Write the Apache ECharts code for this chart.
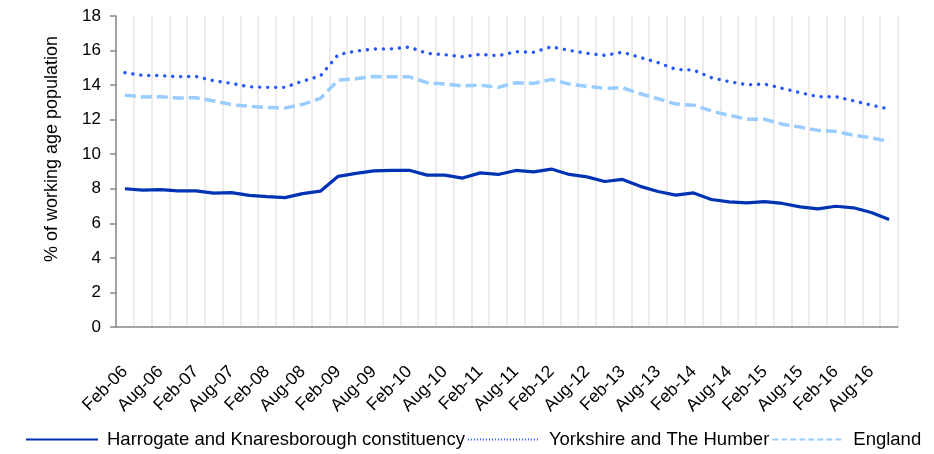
<!DOCTYPE html>
<html>
<head>
<meta charset="utf-8">
<script src="https://cdn.jsdelivr.net/npm/echarts@6/dist/echarts.min.js"></script>
<style>
  html, body { margin: 0; padding: 0; background: #fff; }
  #main { width: 934px; height: 454px; }
</style>
</head>
<body>
<div id="main"></div>
<script>
// quarterly periods, Feb-06 .. Nov-16
var quarters = [
  'Feb-06', 'May-06', 'Aug-06', 'Nov-06', 'Feb-07', 'May-07', 'Aug-07', 'Nov-07',
  'Feb-08', 'May-08', 'Aug-08', 'Nov-08', 'Feb-09', 'May-09', 'Aug-09', 'Nov-09',
  'Feb-10', 'May-10', 'Aug-10', 'Nov-10', 'Feb-11', 'May-11', 'Aug-11', 'Nov-11',
  'Feb-12', 'May-12', 'Aug-12', 'Nov-12', 'Feb-13', 'May-13', 'Aug-13', 'Nov-13',
  'Feb-14', 'May-14', 'Aug-14', 'Nov-14', 'Feb-15', 'May-15', 'Aug-15', 'Nov-15',
  'Feb-16', 'May-16', 'Aug-16', 'Nov-16'
];

var harrogate = [
  8.00, 7.92, 7.95, 7.88, 7.88, 7.75, 7.78, 7.62, 7.55, 7.49, 7.72, 7.86,
  8.72, 8.89, 9.04, 9.07, 9.07, 8.79, 8.79, 8.62, 8.92, 8.83, 9.06, 8.98,
  9.14, 8.83, 8.69, 8.42, 8.54, 8.14, 7.84, 7.63, 7.76, 7.38, 7.24, 7.18,
  7.26, 7.15, 6.95, 6.84, 6.99, 6.90, 6.63, 6.22
];

var yorkshire = [
  14.72, 14.56, 14.55, 14.49, 14.50, 14.25, 14.10, 13.90, 13.87, 13.87, 14.23, 14.53,
  15.76, 15.97, 16.09, 16.10, 16.20, 15.84, 15.76, 15.64, 15.78, 15.70, 15.93, 15.90,
  16.22, 16.01, 15.84, 15.72, 15.90, 15.60, 15.30, 14.91, 14.87, 14.43, 14.20, 14.02,
  14.06, 13.81, 13.56, 13.33, 13.33, 13.09, 12.84, 12.61
];

var england = [
  13.42, 13.31, 13.33, 13.25, 13.27, 13.08, 12.88, 12.77, 12.71, 12.67, 12.88, 13.23,
  14.29, 14.37, 14.50, 14.48, 14.48, 14.14, 14.06, 13.95, 14.00, 13.87, 14.14, 14.10,
  14.33, 14.06, 13.93, 13.81, 13.85, 13.50, 13.21, 12.90, 12.84, 12.50, 12.25, 12.03,
  12.02, 11.74, 11.57, 11.38, 11.32, 11.10, 10.95, 10.74
];

var seriesNames = ['Harrogate and Knaresborough constituency', 'Yorkshire and The Humber', 'England'];

var font = '"Liberation Sans", Arial, sans-serif';
var chart = echarts.init(document.getElementById('main'));

// hide the round marker ECharts puts in the middle of a line legend icon
var noMarker = { opacity: 0 };

var option = {
  animation: false,
  grid: { left: 116, right: 36, top: 16, bottom: 127, containLabel: false },
  legend: {
    left: 20,
    bottom: 0,
    itemWidth: 72,
    itemHeight: 14,
    itemGap: 2,
    textStyle: { fontFamily: font, fontSize: 18.5, color: '#000', padding: [0, 0, 0, 4] },
    data: [
      { name: seriesNames[0], itemStyle: noMarker, lineStyle: { width: 2 } },
      { name: seriesNames[1], itemStyle: noMarker, lineStyle: { width: 2, type: [1, 2], cap: 'butt' } },
      { name: seriesNames[2], itemStyle: noMarker, lineStyle: { width: 2, type: [6, 3], cap: 'butt' } }
    ]
  },
  xAxis: {
    type: 'category',
    data: quarters,
    boundaryGap: true,
    axisLine: { lineStyle: { color: '#888', width: 1.5 } },
    axisTick: { interval: 0, length: 5, lineStyle: { color: '#888', width: 1.5 } },
    splitLine: { show: true, interval: 0, lineStyle: { color: '#ececec', width: 2 } },
    axisLabel: {
      interval: 1,
      rotate: 45,
      margin: 42,
      fontFamily: font,
      fontSize: 17.5,
      color: '#000'
    }
  },
  yAxis: {
    type: 'value',
    min: 0,
    max: 18,
    interval: 2,
    name: '% of working age population',
    nameLocation: 'middle',
    nameGap: 55,
    nameTextStyle: { fontFamily: font, fontSize: 18, color: '#000', padding: [0, 0, 0, 45] },
    axisLine: { show: true, lineStyle: { color: '#888', width: 1.5 } },
    axisTick: { show: true, length: 6, lineStyle: { color: '#888', width: 1.5 } },
    splitLine: { show: false },
    axisLabel: { margin: 15, fontFamily: font, fontSize: 17, color: '#000' }
  },
  series: [
    {
      name: seriesNames[0],
      type: 'line',
      data: harrogate,
      symbol: 'none',
      lineStyle: { color: '#0033b4', width: 3.2 },
      itemStyle: { color: '#0033b4' },
      z: 3
    },
    {
      name: seriesNames[1],
      type: 'line',
      data: yorkshire,
      symbol: 'none',
      lineStyle: { color: '#2457ff', width: 3.4, type: [0.1, 7.9], cap: 'round' },
      itemStyle: { color: '#2457ff' },
      z: 2
    },
    {
      name: seriesNames[2],
      type: 'line',
      data: england,
      symbol: 'none',
      lineStyle: { color: '#99ccff', width: 3.5, type: [11, 5], cap: 'butt' },
      itemStyle: { color: '#99ccff' },
      z: 1
    }
  ]
};

chart.setOption(option);
</script>
</body>
</html>
